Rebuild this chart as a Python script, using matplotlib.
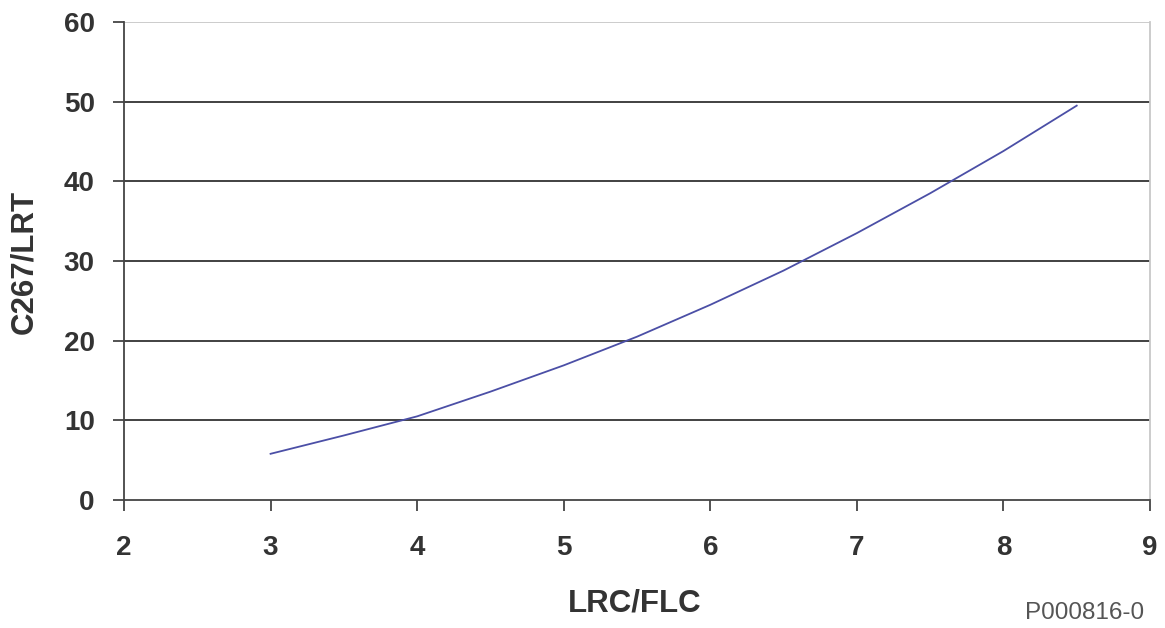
import matplotlib
matplotlib.use("Agg")
import matplotlib.pyplot as plt

# Data
lrc_flc = [3.0, 3.5, 4.0, 4.5, 5.0, 5.5, 6.0, 6.5, 7.0, 7.5, 8.0, 8.5]
c267_lrt = [5.8, 8.1, 10.5, 13.6, 16.9, 20.5, 24.5, 28.8, 33.5, 38.5, 43.8, 49.5]
x_ticks = [2, 3, 4, 5, 6, 7, 8, 9]
y_ticks = [0, 10, 20, 30, 40, 50, 60]

plt.rcParams['font.family'] = ['Liberation Sans', 'DejaVu Sans']

fig = plt.figure(figsize=(11.65, 6.28), dpi=100)
ax = fig.add_axes([124/1165, 1 - 500/628, (1150-124)/1165, (500-22)/628])

ax.plot(lrc_flc, c267_lrt, color='#4b4fa6', lw=1.3)

ax.set_xlim(2, 9)
ax.set_ylim(0, 60)
ax.set_xticks(x_ticks)
ax.set_yticks(y_ticks)
for y in y_ticks[1:-1]:
    ax.axhline(y, color='#333333', lw=1.3, zorder=0)
ax.axhline(60, color='#c8c8c8', lw=1.3, zorder=0)

for s in ['left', 'bottom']:
    ax.spines[s].set_color('#444444')
    ax.spines[s].set_linewidth(1.3)
ax.spines['top'].set_visible(False)
ax.spines['right'].set_color('#c8c8c8')
ax.spines['right'].set_linewidth(1.3)

ax.tick_params(axis='both', direction='out', length=8, width=1.3, color='#444444',
               labelsize=20, labelcolor='#333333')
ax.tick_params(axis='x', pad=17)
ax.tick_params(axis='y', pad=13)
for lab in ax.get_xticklabels() + ax.get_yticklabels():
    lab.set_fontweight('bold')

ax.set_xlabel('LRC/FLC', fontsize=22.5, fontweight='bold', color='#333333', va='center')
ax.set_ylabel('C267/LRT', fontsize=22.5, fontweight='bold', color='#333333', va='center')
ax.xaxis.set_label_coords((635-124)/1026, (500-604)/478)
ax.yaxis.set_label_coords((24-124)/1026, (500-262)/478)

fig.text(1085/1165, 1 - 613/628, 'P000816-0', fontsize=17.5, color='#555555',
         ha='center', va='center')

fig.savefig('out.png', dpi=100)
